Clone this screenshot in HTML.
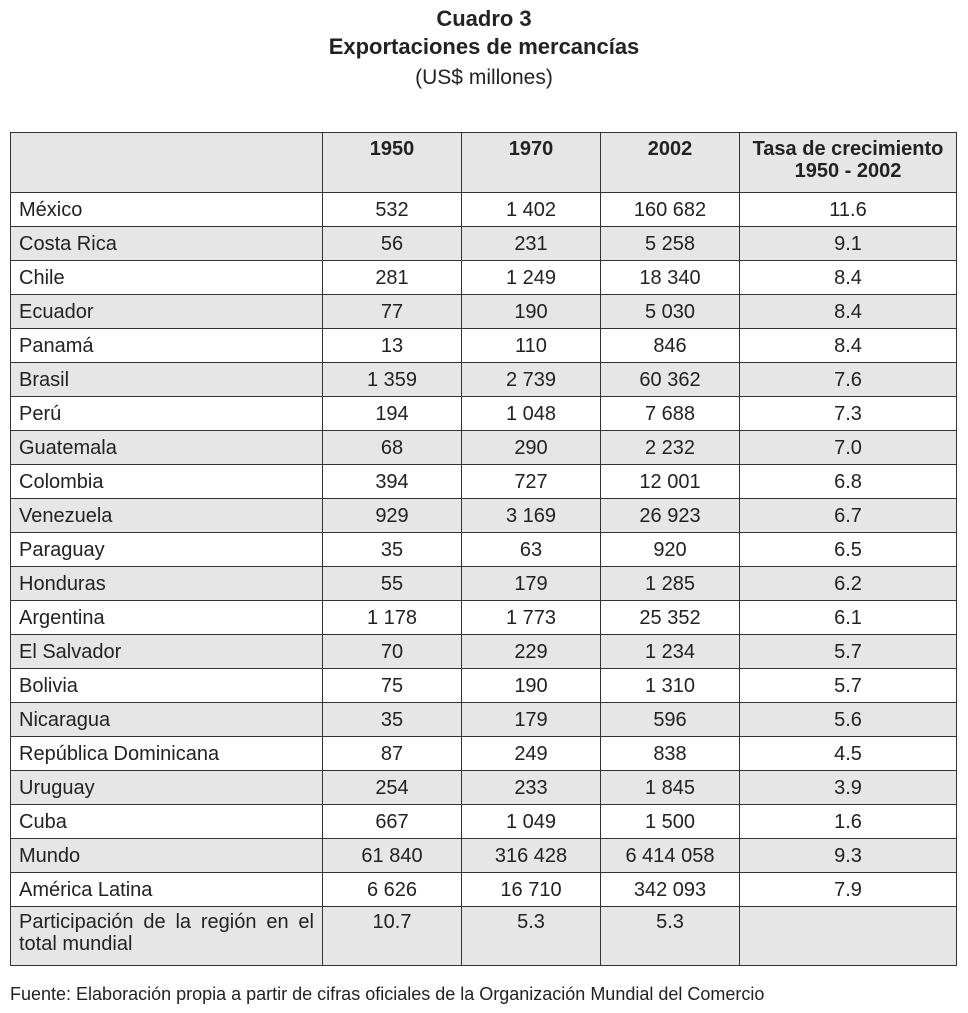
<!DOCTYPE html>
<html><head><meta charset="utf-8"><style>
body{margin:0;width:968px;height:1013px;background:#fff;font-family:"Liberation Sans Narrow","Liberation Sans",sans-serif;color:#222;position:relative;overflow:hidden}
.t{position:absolute;left:0;width:968px;text-align:center}
table{position:absolute;left:10px;top:132px;border-collapse:collapse;table-layout:fixed;width:946px}
td{border:1.5px solid #333;font-size:20px;padding:0;height:33px;text-align:center;vertical-align:middle;line-height:22px}
td:first-child{text-align:left;padding-left:8px}
tr.g td{background:#e6e6e6}
tr.h td{height:54px;vertical-align:top;padding-top:5px;font-weight:bold}
tr.last td{height:54px;vertical-align:top;padding-top:4px}
</style></head><body>
<div class="t" style="top:6px;font-size:22px;font-weight:bold;font-family:'Liberation Sans',sans-serif">Cuadro 3</div>
<div class="t" style="top:34px;font-size:22px;font-weight:bold;font-family:'Liberation Sans',sans-serif">Exportaciones de mercancías</div>
<div class="t" style="top:66px;font-size:21px;font-family:'Liberation Sans',sans-serif">(US$ millones)</div>
<table>
<colgroup><col style="width:312px"><col style="width:139px"><col style="width:139px"><col style="width:139px"><col style="width:217px"></colgroup>
<tr class="h g"><td></td><td>1950</td><td>1970</td><td>2002</td><td>Tasa de crecimiento<br>1950 - 2002</td></tr>
<tr><td>México</td><td>532</td><td>1 402</td><td>160 682</td><td>11.6</td></tr>
<tr class="g"><td>Costa Rica</td><td>56</td><td>231</td><td>5 258</td><td>9.1</td></tr>
<tr><td>Chile</td><td>281</td><td>1 249</td><td>18 340</td><td>8.4</td></tr>
<tr class="g"><td>Ecuador</td><td>77</td><td>190</td><td>5 030</td><td>8.4</td></tr>
<tr><td>Panamá</td><td>13</td><td>110</td><td>846</td><td>8.4</td></tr>
<tr class="g"><td>Brasil</td><td>1 359</td><td>2 739</td><td>60 362</td><td>7.6</td></tr>
<tr><td>Perú</td><td>194</td><td>1 048</td><td>7 688</td><td>7.3</td></tr>
<tr class="g"><td>Guatemala</td><td>68</td><td>290</td><td>2 232</td><td>7.0</td></tr>
<tr><td>Colombia</td><td>394</td><td>727</td><td>12 001</td><td>6.8</td></tr>
<tr class="g"><td>Venezuela</td><td>929</td><td>3 169</td><td>26 923</td><td>6.7</td></tr>
<tr><td>Paraguay</td><td>35</td><td>63</td><td>920</td><td>6.5</td></tr>
<tr class="g"><td>Honduras</td><td>55</td><td>179</td><td>1 285</td><td>6.2</td></tr>
<tr><td>Argentina</td><td>1 178</td><td>1 773</td><td>25 352</td><td>6.1</td></tr>
<tr class="g"><td>El Salvador</td><td>70</td><td>229</td><td>1 234</td><td>5.7</td></tr>
<tr><td>Bolivia</td><td>75</td><td>190</td><td>1 310</td><td>5.7</td></tr>
<tr class="g"><td>Nicaragua</td><td>35</td><td>179</td><td>596</td><td>5.6</td></tr>
<tr><td>República Dominicana</td><td>87</td><td>249</td><td>838</td><td>4.5</td></tr>
<tr class="g"><td>Uruguay</td><td>254</td><td>233</td><td>1 845</td><td>3.9</td></tr>
<tr><td>Cuba</td><td>667</td><td>1 049</td><td>1 500</td><td>1.6</td></tr>
<tr class="g"><td>Mundo</td><td>61 840</td><td>316 428</td><td>6 414 058</td><td>9.3</td></tr>
<tr><td>América Latina</td><td>6 626</td><td>16 710</td><td>342 093</td><td>7.9</td></tr>
<tr class="g last"><td style="text-align:justify;text-align-last:left;padding-right:8px">Participación de la región en el total mundial</td><td>10.7</td><td>5.3</td><td>5.3</td><td></td></tr>
</table>
<div style="position:absolute;left:10px;top:984px;font-size:18px">Fuente: Elaboración propia a partir de cifras oficiales de la Organización Mundial del Comercio</div>
</body></html>
